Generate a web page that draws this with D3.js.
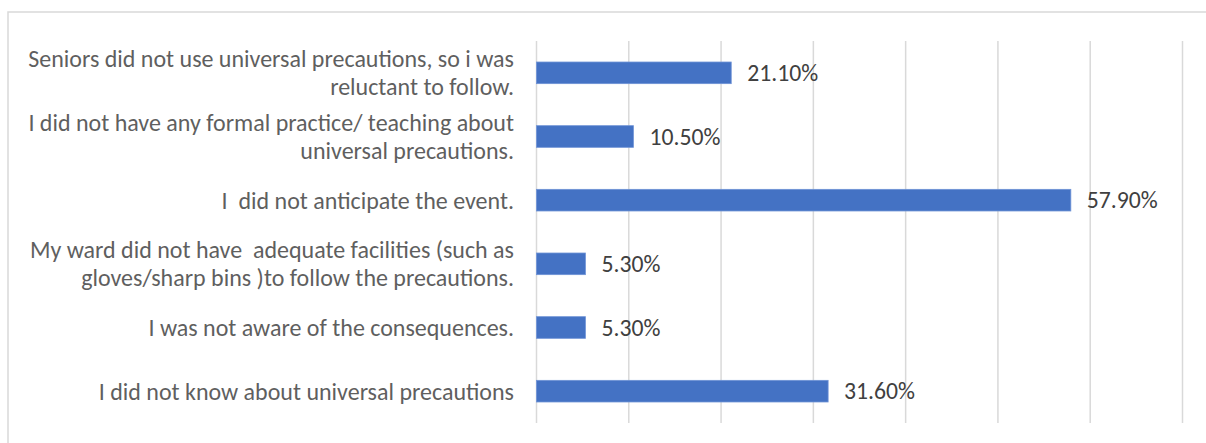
<!DOCTYPE html>
<html>
<head>
<meta charset="utf-8">
<script src="https://cdn.jsdelivr.net/npm/d3@7/dist/d3.min.js"></script>
<style>
  html, body { margin: 0; padding: 0; background: #fff; }
  svg { display: block; }
  text { white-space: pre; }
</style>
</head>
<body>
<script>
const categories = [
  ["Seniors did not use universal precautions, so i was", "reluctant to follow."],
  ["I did not have any formal practice/ teaching about", "universal precautions."],
  ["I  did not anticipate the event."],
  ["My ward did not have  adequate facilities (such as", "gloves/sharp bins )to follow the precautions."],
  ["I was not aware of the consequences."],
  ["I did not know about universal precautions"]
];
const values = [21.1, 10.5, 57.9, 5.3, 5.3, 31.6];
const valueLabels = ["21.10%", "10.50%", "57.90%", "5.30%", "5.30%", "31.60%"];
const xTicks = [0, 10, 20, 30, 40, 50, 60, 70];

const W = 1206, H = 443;
const font = "Carlito, Lato, 'Liberation Sans', sans-serif";

const svg = d3.select("body").append("svg").attr("width", W).attr("height", H);

// outer chart border
svg.append("rect").attr("x", 8).attr("y", 12).attr("width", W).attr("height", H)
  .attr("fill", "none").attr("stroke", "#d9d9d9").attr("stroke-width", 1.5);

const x = d3.scaleLinear().domain([0, 70]).range([536.5, 1182.5]);
const idx = d3.range(categories.length);
const y = d3.scaleBand().domain(idx).range([41, 423]).paddingInner(0.66).paddingOuter(0.33);

// gridlines
svg.append("g").selectAll("line").data(xTicks).join("line")
  .attr("x1", d => x(d)).attr("x2", d => x(d))
  .attr("y1", 41).attr("y2", 423)
  .attr("stroke", "#d9d9d9").attr("stroke-width", 1.5);

// bars
svg.append("g").selectAll("rect").data(values).join("rect")
  .attr("x", x(0)).attr("y", (d, i) => y(i))
  .attr("width", d => x(d) - x(0)).attr("height", y.bandwidth())
  .attr("fill", "#4472c4").attr("stroke", "#6f93d6").attr("stroke-width", 0.8);

// value labels
const vl = svg.append("g").selectAll("text").data(values).join("text")
  .attr("x", d => x(d) + 16).attr("y", (d, i) => y(i) + y.bandwidth() / 2)
  .attr("dy", "0.35em")
  .attr("font-family", font).attr("font-size", 18).attr("fill", "#404040")
  .text((d, i) => valueLabels[i]);

// category labels
const catG = svg.append("g");
const lineH = 28;
categories.forEach((lines, i) => {
  const cy = y(i) + y.bandwidth() / 2;
  const t = catG.append("text")
    .attr("text-anchor", "end")
    .attr("xml:space", "preserve")
    .attr("font-family", font).attr("font-size", 18).attr("fill", "#5f5f5f");
  lines.forEach((ln, j) => {
    t.append("tspan").attr("x", 514)
      .attr("y", cy + (j - (lines.length - 1) / 2) * lineH)
      .attr("dy", "0.35em")
      .text(ln);
  });
});

// fit font size to reference text widths
const probe = catG.selectAll("tspan").filter(function() { return this.textContent.startsWith("Seniors"); }).node();
const wMeasured = probe.getComputedTextLength();
const fs = 18 * 486 / wMeasured;
catG.selectAll("text").attr("font-size", fs);
const vprobe = vl.filter((d, i) => i === 2).node();
const vfs = 18 * 71 / vprobe.getComputedTextLength();
vl.attr("font-size", vfs);
</script>
</body>
</html>
